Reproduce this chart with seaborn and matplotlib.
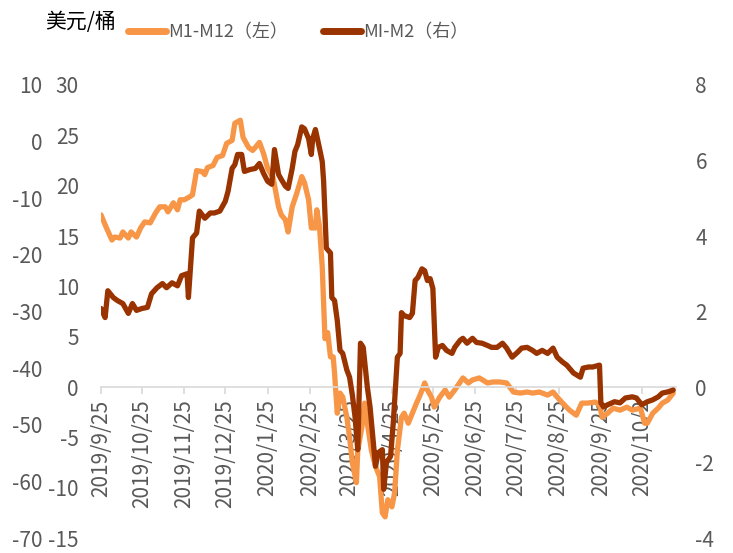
import pandas as pd
import seaborn as sns
import matplotlib.pyplot as plt
from matplotlib.lines import Line2D

# M1-M12 spread (left axis, USD/bbl)
m1m12_dates = [
    "2019-09-25", "2019-09-29", "2019-10-03", "2019-10-05", "2019-10-09", "2019-10-11",
    "2019-10-15", "2019-10-17", "2019-10-21", "2019-10-24", "2019-10-27", "2019-10-31",
    "2019-11-04", "2019-11-07", "2019-11-11", "2019-11-13", "2019-11-17", "2019-11-20",
    "2019-11-22", "2019-11-25", "2019-11-29", "2019-12-01", "2019-12-04", "2019-12-08",
    "2019-12-10", "2019-12-12", "2019-12-16", "2019-12-19", "2019-12-23", "2019-12-26",
    "2019-12-30", "2020-01-01", "2020-01-05", "2020-01-07", "2020-01-11", "2020-01-14",
    "2020-01-16", "2020-01-19", "2020-01-22", "2020-01-25", "2020-01-29", "2020-02-02",
    "2020-02-04", "2020-02-07", "2020-02-09", "2020-02-12", "2020-02-15", "2020-02-19",
    "2020-02-21", "2020-02-24", "2020-02-26", "2020-02-29", "2020-03-01", "2020-03-03",
    "2020-03-05", "2020-03-07", "2020-03-09", "2020-03-11", "2020-03-13", "2020-03-14",
    "2020-03-16", "2020-03-18", "2020-03-20", "2020-03-23", "2020-03-25", "2020-03-27",
    "2020-03-30", "2020-03-31", "2020-04-03", "2020-04-05", "2020-04-07", "2020-04-10",
    "2020-04-13", "2020-04-16", "2020-04-18", "2020-04-20", "2020-04-22", "2020-04-25",
    "2020-04-27", "2020-04-29", "2020-05-02", "2020-05-04", "2020-05-07", "2020-05-10",
    "2020-05-13", "2020-05-15", "2020-05-18", "2020-05-19", "2020-05-21", "2020-05-24",
    "2020-05-26", "2020-05-30", "2020-06-03", "2020-06-06", "2020-06-10", "2020-06-14",
    "2020-06-16", "2020-06-20", "2020-06-23", "2020-06-28", "2020-07-04", "2020-07-08",
    "2020-07-13", "2020-07-18", "2020-07-23", "2020-07-28", "2020-08-02", "2020-08-06",
    "2020-08-11", "2020-08-17", "2020-08-21", "2020-08-24", "2020-08-28", "2020-09-02",
    "2020-09-07", "2020-09-11", "2020-09-15", "2020-09-21", "2020-09-24", "2020-09-26",
    "2020-09-30", "2020-10-04", "2020-10-09", "2020-10-14", "2020-10-18", "2020-10-24",
    "2020-10-27", "2020-10-29", "2020-11-02", "2020-11-06", "2020-11-09", "2020-11-13",
    "2020-11-17",
]
m1m12_vals = [
    17.1, 15.8, 14.6, 14.9, 14.8, 15.4, 14.8, 15.4, 14.9, 15.8, 16.4, 16.3,
    17.3, 17.9, 17.9, 17.4, 18.3, 17.6, 18.6, 18.6, 18.9, 19.1, 21.5, 21.4,
    21.1, 21.8, 22.0, 22.8, 23.0, 24.2, 24.5, 26.2, 26.5, 24.8, 23.8, 23.5,
    23.8, 24.3, 23.2, 21.7, 20.8, 17.9, 17.1, 16.6, 15.4, 17.9, 19.1, 20.9,
    20.3, 18.6, 15.8, 15.8, 17.6, 15.9, 11.9, 4.8, 5.4, 3.0, 3.0, 1.4,
    -2.6, -0.6, -1.0, -3.0, -5.0, -7.5, -9.5, -6.3, -4.0, -1.6, -3.6, -6.3,
    -7.9, -8.9, -12.5, -12.9, -11.2, -11.9, -10.5, -6.3, -3.0, -2.6, -3.6, -2.6,
    -1.6, -1.0, 0.0, 0.4, -0.3, -1.0, -2.0, -1.0, -0.3, -1.0, -0.3, 0.5,
    0.9, 0.4, 0.7, 0.9, 0.4, 0.5, 0.5, 0.4, -0.5, -0.6, -0.5, -0.6,
    -0.5, -0.8, -0.5, -1.0, -1.6, -2.3, -2.8, -1.6, -1.6, -1.5, -1.8, -3.0,
    -2.6, -2.1, -2.3, -2.0, -2.3, -2.1, -3.6, -3.6, -2.6, -2.1, -1.6, -1.3,
    -0.6,
]

# MI-M2 spread (right axis)
mim2_dates = [
    "2019-09-25", "2019-09-28", "2019-09-30", "2019-10-04", "2019-10-07", "2019-10-11",
    "2019-10-15", "2019-10-18", "2019-10-21", "2019-10-25", "2019-10-29", "2019-11-01",
    "2019-11-05", "2019-11-09", "2019-11-12", "2019-11-16", "2019-11-20", "2019-11-23",
    "2019-11-27", "2019-11-28", "2019-12-01", "2019-12-04", "2019-12-06", "2019-12-10",
    "2019-12-14", "2019-12-17", "2019-12-21", "2019-12-25", "2019-12-27", "2019-12-30",
    "2020-01-01", "2020-01-03", "2020-01-06", "2020-01-08", "2020-01-12", "2020-01-16",
    "2020-01-19", "2020-01-22", "2020-01-25", "2020-01-28", "2020-01-30", "2020-02-02",
    "2020-02-04", "2020-02-07", "2020-02-09", "2020-02-12", "2020-02-14", "2020-02-16",
    "2020-02-19", "2020-02-21", "2020-02-24", "2020-02-26", "2020-02-27", "2020-02-29",
    "2020-03-03", "2020-03-05", "2020-03-06", "2020-03-08", "2020-03-11", "2020-03-12",
    "2020-03-14", "2020-03-16", "2020-03-18", "2020-03-20", "2020-03-23", "2020-03-25",
    "2020-03-27", "2020-03-29", "2020-03-31", "2020-04-02", "2020-04-04", "2020-04-07",
    "2020-04-09", "2020-04-11", "2020-04-13", "2020-04-15", "2020-04-18", "2020-04-19",
    "2020-04-21", "2020-04-24", "2020-04-26", "2020-04-29", "2020-05-01", "2020-05-02",
    "2020-05-04", "2020-05-08", "2020-05-10", "2020-05-12", "2020-05-14", "2020-05-17",
    "2020-05-19", "2020-05-21", "2020-05-23", "2020-05-25", "2020-05-27", "2020-05-29",
    "2020-06-01", "2020-06-04", "2020-06-08", "2020-06-10", "2020-06-14", "2020-06-16",
    "2020-06-19", "2020-06-23", "2020-06-26", "2020-06-30", "2020-07-04", "2020-07-07",
    "2020-07-11", "2020-07-15", "2020-07-18", "2020-07-22", "2020-07-26", "2020-07-29",
    "2020-08-02", "2020-08-06", "2020-08-09", "2020-08-13", "2020-08-17", "2020-08-21",
    "2020-08-24", "2020-08-28", "2020-08-31", "2020-09-05", "2020-09-10", "2020-09-12",
    "2020-09-16", "2020-09-19", "2020-09-24", "2020-09-25", "2020-09-27", "2020-09-30",
    "2020-10-05", "2020-10-09", "2020-10-13", "2020-10-18", "2020-10-21", "2020-10-25",
    "2020-10-29", "2020-11-02", "2020-11-06", "2020-11-09", "2020-11-13", "2020-11-17",
]
mim2_vals = [
    2.08, 1.84, 2.55, 2.37, 2.29, 2.21, 1.95, 2.21, 2.03, 2.08, 2.11, 2.47,
    2.63, 2.74, 2.63, 2.76, 2.68, 2.95, 3.00, 2.37, 3.95, 4.08, 4.66, 4.47,
    4.61, 4.61, 4.66, 4.92, 5.18, 5.79, 5.89, 6.16, 6.16, 5.71, 5.76, 5.79,
    5.92, 5.66, 5.45, 5.37, 6.29, 5.63, 5.50, 5.32, 5.26, 5.79, 6.24, 6.42,
    6.89, 6.84, 6.58, 6.16, 6.58, 6.82, 6.32, 5.97, 5.45, 3.68, 3.55, 2.37,
    2.29, 1.76, 0.97, 0.89, 0.45, 0.26, -0.20, -0.79, -1.66, 1.16, 1.05, 0.00,
    -0.53, -1.32, -2.10, -1.74, -1.66, -2.71, -2.00, -1.84, -0.95, 0.79, 0.89, 1.97,
    1.89, 1.84, 1.95, 2.82, 2.90, 3.13, 3.08, 2.82, 2.87, 2.61, 0.79, 1.05,
    1.10, 0.97, 0.89, 1.05, 1.24, 1.29, 1.16, 1.29, 1.18, 1.16, 1.10, 1.05,
    1.05, 1.16, 1.03, 0.79, 0.92, 1.03, 1.05, 0.97, 0.89, 0.97, 0.89, 1.03,
    0.79, 0.66, 0.58, 0.37, 0.26, 0.50, 0.53, 0.53, 0.58, -0.42, -0.53, -0.47,
    -0.39, -0.42, -0.29, -0.26, -0.29, -0.47, -0.39, -0.34, -0.26, -0.16, -0.13, -0.08,
]

tick_dates = [
    "2019-09-25", "2019-10-25", "2019-11-25", "2019-12-25", "2020-01-25", "2020-02-25",
    "2020-03-25", "2020-04-25", "2020-05-25", "2020-06-25", "2020-07-25", "2020-08-25",
    "2020-09-25", "2020-10-25",
]
tick_labels = [
    "2019/9/25", "2019/10/25", "2019/11/25", "2019/12/25", "2020/1/25", "2020/2/25",
    "2020/3/25", "2020/4/25", "2020/5/25", "2020/6/25", "2020/7/25", "2020/8/25",
    "2020/9/25", "2020/10/2",
]
left_ticks = [30, 25, 20, 15, 10, 5, 0, -5, -10, -15]
right_ticks = [8, 6, 4, 2, 0, -2, -4]
outer_ticks = [10, 0, -10, -20, -30, -40, -50, -60, -70]

ORANGE = "#F79646"
BROWN = "#993300"
GRAY = "#595959"

sns.set_theme(style="white")
plt.rcParams['font.family'] = ['Noto Sans CJK SC', 'DejaVu Sans']
plt.rcParams['axes.unicode_minus'] = False

df1 = pd.DataFrame({"date": pd.to_datetime(m1m12_dates), "val": m1m12_vals})
df2 = pd.DataFrame({"date": pd.to_datetime(mim2_dates), "val": mim2_vals})

fig = plt.figure(figsize=(7.33, 5.53), dpi=100)
ax = fig.add_axes([0.1378, 0.0271, 0.7844, 0.8192])
ax2 = ax.twinx()
ax3 = ax.twinx()

sns.lineplot(data=df1, x="date", y="val", ax=ax, color=ORANGE, linewidth=3.8)
sns.lineplot(data=df2, x="date", y="val", ax=ax2, color=BROWN, linewidth=3.8)

ax.set_ylim(-15, 30)
ax2.set_ylim(-4, 8)
ax3.set_ylim(-70, 10)
ax.set_xlim(pd.Timestamp("2019-09-25"), pd.Timestamp("2020-11-19"))

ax.set_yticks(left_ticks)
ax2.set_yticks(right_ticks)
ax3.set_yticks(outer_ticks)
ax3.yaxis.set_ticks_position('left')

ax.set_xticks(pd.to_datetime(tick_dates))
ax.set_xticklabels(tick_labels)

for a in (ax, ax2, ax3):
    a.set_xlabel("")
    a.set_ylabel("")
    for s in a.spines.values():
        s.set_visible(False)

ax.spines['bottom'].set_visible(True)
ax.spines['bottom'].set_position(('data', 0))
ax.spines['bottom'].set_color("#D9D9D9")
ax.spines['bottom'].set_linewidth(1.2)
ax.tick_params(axis='x', direction='out', length=5, width=1.2, color="#D9D9D9",
               labelsize=15, labelcolor=GRAY, pad=4, bottom=True, labelrotation=90)
for lbl in ax.get_xticklabels():
    lbl.set_ha("center")
    lbl.set_va("top")
ax.tick_params(axis='y', length=0, pad=16, labelsize=15, labelcolor=GRAY)
ax2.tick_params(axis='y', length=0, pad=14, labelsize=15, labelcolor=GRAY)
ax3.tick_params(axis='y', length=0, pad=42, labelsize=15, labelcolor=GRAY)
# the outer labels sit on white boxes that hide part of the inner ones
for lbl in ax3.get_yticklabels():
    lbl.set_bbox(dict(facecolor="white", edgecolor="none", pad=1.5))

fig.text(0.061, 0.96, "美元/桶", fontsize=15, color="black", va="center", ha="left")

handles = [
    Line2D([0], [0], color=ORANGE, linewidth=5, solid_capstyle="round"),
    Line2D([0], [0], color=BROWN, linewidth=5, solid_capstyle="round"),
]
fig.legend(handles, ["M1-M12（左）", "MI-M2（右）"], loc="center left",
           bbox_to_anchor=(0.1746, 0.942), ncol=2, frameon=False,
           fontsize=13, labelcolor=GRAY, handlelength=2.1, handletextpad=0.15,
           columnspacing=1.9, borderpad=0, borderaxespad=0)

plt.savefig("out.png", dpi=100)
